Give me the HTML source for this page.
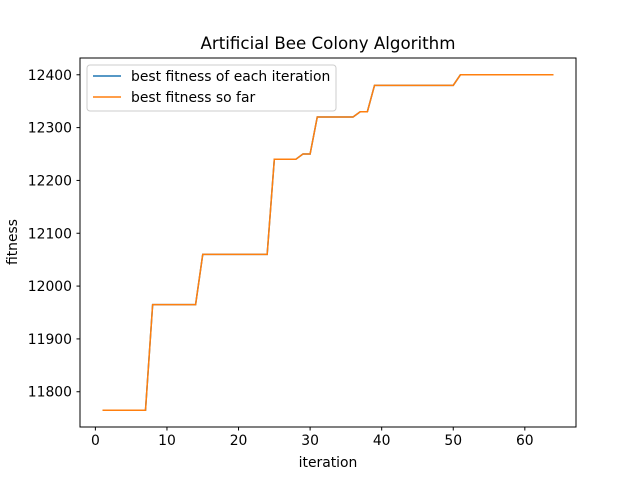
<!DOCTYPE html>
<html><head><meta charset="utf-8"><style>
body{margin:0;background:#fff}
svg{display:block;font-family:"DejaVu Sans","Liberation Sans",sans-serif}
</style></head><body>
<svg id="c" width="640" height="480">
<rect width="640" height="480" fill="#fff"/>
<text x="328" y="49" font-size="16.67" text-anchor="middle">Artificial Bee Colony Algorithm</text>
<g id="plot"></g>
<rect x="80" y="58" width="496" height="369" fill="none" stroke="#000" stroke-width="1"/>
<text x="328" y="467" font-size="13.9" text-anchor="middle">iteration</text>
<text transform="translate(17,242) rotate(-90)" font-size="13.9" text-anchor="middle">fitness</text>
<g>
<rect x="87" y="65" width="249" height="46" rx="3" fill="#fff" fill-opacity="0.8" stroke="#ccc"/>
<line x1="93" y1="76" x2="121" y2="76" stroke="#1f77b4" stroke-width="1.5"/>
<text x="131" y="81" font-size="13.9">best fitness of each iteration</text>
<line x1="93" y1="97" x2="121" y2="97" stroke="#ff7f0e" stroke-width="1.5"/>
<text x="131" y="102" font-size="13.9">best fitness so far</text>
</g>
</svg>
<script>
const iterations=[];for(let i=1;i<=64;i++)iterations.push(i);
const bestEach=[11765,11765,11765,11765,11765,11765,11765,11965,11965,11965,11965,11965,11965,11965,12060,12060,12060,12060,12060,12060,12060,12060,12060,12060,12240,12240,12240,12240,12250,12250,12320,12320,12320,12320,12320,12320,12330,12330,12380,12380,12380,12380,12380,12380,12380,12380,12380,12380,12380,12380,12400,12400,12400,12400,12400,12400,12400,12400,12400,12400,12400,12400,12400,12400];
const bestSoFar=bestEach.slice();
const xTicks=[0,10,20,30,40,50,60];
const yTicks=[11800,11900,12000,12100,12200,12300,12400];
const NS="http://www.w3.org/2000/svg";
const L=80,R=576,T=58,B=427;
const xmin=-2.15,xmax=67.15,ymin=11733.25,ymax=12431.75;
const sx=v=>L+(v-xmin)/(xmax-xmin)*(R-L);
const sy=v=>B-(v-ymin)/(ymax-ymin)*(B-T);
const g=document.getElementById('plot');
function mk(t,a){const e=document.createElementNS(NS,t);for(const k in a)e.setAttribute(k,a[k]);g.appendChild(e);return e;}
xTicks.forEach(v=>{
 const l=mk('line',{x1:sx(v),x2:sx(v),y1:B,y2:B+3.5,stroke:'#000'});
 
 
 const t=mk('text',{x:sx(v),y:B+18,'font-size':13.9,'text-anchor':'middle'});t.textContent=v;
 
 
});
yTicks.forEach(v=>{
 const l=mk('line',{x1:L-3.5,x2:L,y1:sy(v),y2:sy(v),stroke:'#000'});
 
 
 const t=mk('text',{x:L-8,y:sy(v)+5,'font-size':13.9,'text-anchor':'end'});t.textContent=v;
 
 
});
function line(ys,c,n){
 const p=mk('polyline',{points:iterations.map((x,i)=>sx(x)+','+sy(ys[i])).join(' '),fill:'none',stroke:c,'stroke-width':1.5});
 
 
}
line(bestEach,'#1f77b4','series-best-each-iteration');
line(bestSoFar,'#ff7f0e','series-best-so-far');
</script>
</body></html>
